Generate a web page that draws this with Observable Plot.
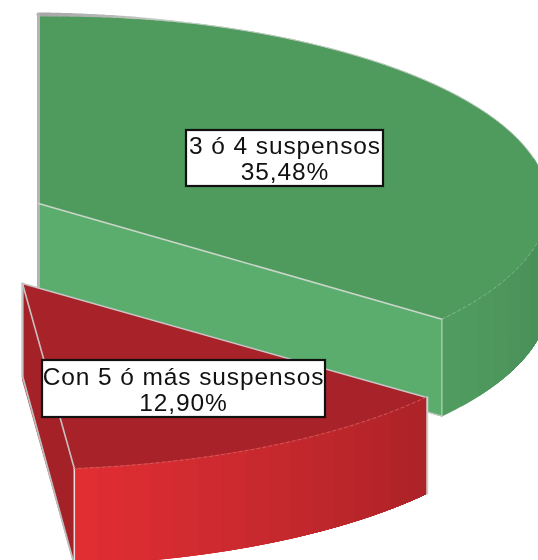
<!DOCTYPE html>
<html>
<head>
<meta charset="utf-8">
<script src="https://cdn.jsdelivr.net/npm/d3@7"></script>
<script src="https://cdn.jsdelivr.net/npm/@observablehq/plot@0.6"></script>
<style>
html,body{margin:0;padding:0;background:#fff}
svg{display:block;overflow:hidden;filter:blur(0.7px)}
svg text{letter-spacing:0.9px}
</style>
</head>
<body>
<div id="chart"></div>
<script>
// Data
const categories = ["3 ó 4 suspensos", "Con 5 ó más suspensos"];
const percents = [35.48, 12.90];
const percentLabels = ["35,48%", "12,90%"];

// Pie projection (tilted ellipse, exploded slices, extruded walls)
const W = 538, H = 560;
const rad = p => p / 100 * 2 * Math.PI;
const t0 = 0, t1 = rad(percents[0]), t2 = t1 + rad(percents[1]);
const green = {cx: 38, cy: 203, a: 510, b: 189, d: 97};
const red = {cx: 22, cy: 283, a: 510, b: 186, d: 96.5};
const P = (s, t, drop = 0) => ({x: s.cx + s.a * Math.sin(t), y: s.cy - s.b * Math.cos(t) + drop});
const arc = (s, from, to, drop = 0, n = 60) => d3.range(n + 1).map(i => P(s, from + (to - from) * i / n, drop));
const apex = (s, drop = 0) => ({x: s.cx, y: s.cy + drop});

const poly = (pts, fill) => Plot.line(pts, {x: "x", y: "y", fill, stroke: fill, strokeWidth: 0.6, curve: "linear-closed"});
const edge = (pts, stroke, strokeWidth, extra = {}) => Plot.line(pts, {x: "x", y: "y", stroke, strokeWidth, curve: "linear", ...extra});

// Painter's bands: each band reaches the wall's far end, the next one paints over it
function wall(s, from, to, n, c0, c1) {
  const mix = d3.interpolateRgb(c0, c1);
  return d3.range(n).map(i => {
    const a = from + (to - from) * i / n;
    return poly([...arc(s, a, to, 0, 40), ...arc(s, to, a, s.d, 40)], mix(i / (n - 1)));
  });
}

// Grey rim on the top arc, fading out along its first stretch
function rim(s, fadeEnd, n) {
  const mix = d3.interpolateRgb("#a6a6a6", "#c8d2c8");
  return d3.range(n).map(i => edge(arc(s, fadeEnd * i / n, fadeEnd * (i + 1) / n, 0, 3), mix(i / (n - 1)), 4 - 2.8 * i / (n - 1)));
}

const marks = [
  // green slice
  ...wall(green, t1, Math.PI / 2, 10, "#509c5f", "#468a55"),
  poly([apex(green), ...arc(green, t0, t1)], "#4f9a5d"),
  poly([apex(green), P(green, t1), P(green, t1, green.d), apex(green, green.d)], "#5aad6c"),
  edge(arc(green, 0.3, t1 - 0.9), "#c4ccc4", 1),
  ...rim(green, 0.3, 14),
  edge([apex(green), P(green, 0)], "#b4b4b4", 3),
  edge([apex(green), apex(green, green.d)], "#b4b4b4", 3),
  edge([apex(green), P(green, t1)], "#c9d6c9", 1.6),
  edge([P(green, t1), P(green, t1, green.d)], "#b6d0ba", 1.2),
  edge([P(green, t1, green.d), apex(green, green.d)], "#c4c4c4", 1.5),
  edge(arc(green, t1, 1.72, 0, 20), "#8fbb98", 0.8, {strokeDasharray: "3,3"}),
  // red slice
  poly([apex(red), P(red, t2), P(red, t2, red.d), apex(red, red.d)], "#a32127"),
  poly([apex(red), ...arc(red, t1, t2)], "#a82329"),
  ...wall(red, t2, t1, 16, "#e02e33", "#ad2328"),
  edge([apex(red), apex(red, red.d - 4)], "#c4c4c4", 2.2),
  edge([apex(red, red.d - 4), P(red, t2, red.d)], "#bdbdbd", 1.8),
  edge([apex(red), P(red, t1)], "#c8c8c8", 1.6),
  edge([apex(red), P(red, t2)], "#c8c0c0", 1.6),
  edge([P(red, t2), P(red, t2, red.d)], "#e6dcdc", 1.5),
  edge([P(red, t1), P(red, t1, red.d)], "#cfcfcf", 2, {dx: 1.4}),
  edge(arc(red, t1, t2, 0, 40), "#c9686b", 0.8, {strokeDasharray: "3,3"})
];

// Labels
const boxes = [
  {x1: 186, x2: 383, y1: 130, y2: 186, cx: 284.5, cy: 158},
  {x1: 42, x2: 325, y1: 360, y2: 417, cx: 183, cy: 389}
];
const labels = categories.map((c, i) => ({...boxes[i], text: c + "\n" + percentLabels[i]}));

const chart = Plot.plot({
  width: W, height: H,
  margin: 0,
  x: {domain: [0, W], range: [0, W], axis: null},
  y: {domain: [0, H], range: [0, H], axis: null},
  marks: [
    ...marks,
    Plot.rect(labels, {x1: "x1", x2: "x2", y1: "y1", y2: "y2", fill: "#fff", stroke: "#111", strokeWidth: 2.2}),
    Plot.text(labels, {
      x: "cx", y: "cy", text: "text", fill: "#111",
      fontFamily: "Liberation Sans", fontSize: 24.5, lineHeight: 1.06, textAnchor: "middle", lineAnchor: "middle"
    })
  ]
});
document.getElementById("chart").appendChild(chart);
</script>
</body>
</html>
